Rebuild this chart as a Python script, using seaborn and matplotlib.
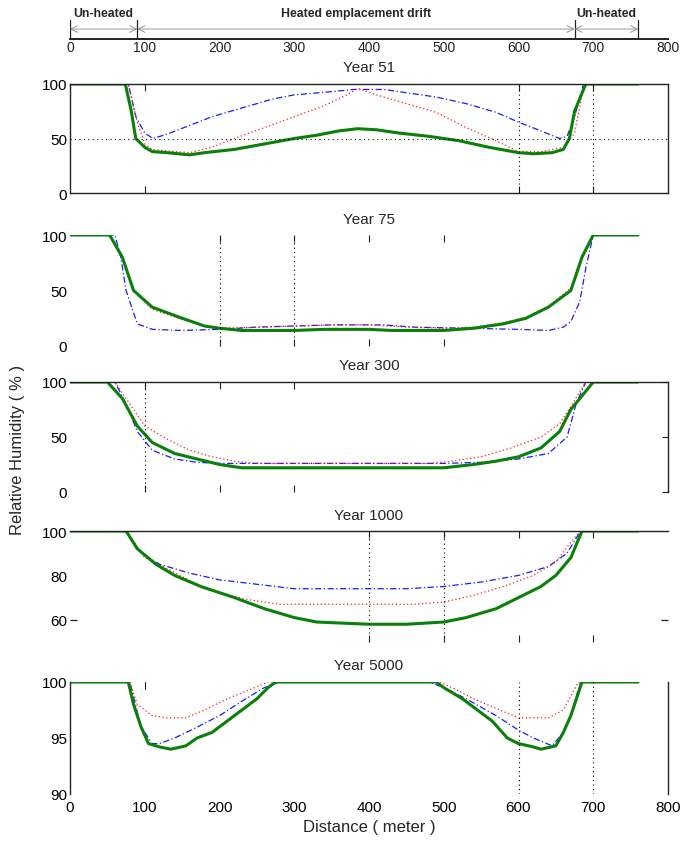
import numpy as np
import pandas as pd
import matplotlib
matplotlib.use("Agg")
import matplotlib.pyplot as plt
import seaborn as sns

sns.set_theme(style="white")
plt.rcParams['font.family'] = ['Liberation Sans', 'DejaVu Sans']

# ---------------- data ----------------
zone_edges = [0, 90, 675, 760]
zone_labels = ["Un-heated", "Heated emplacement drift", "Un-heated"]
top_ticks = [0, 100, 200, 300, 400, 500, 600, 700, 800]

# Year 51
y51_green_x = [0, 74, 82, 88, 100, 110, 130, 160, 180, 220, 260, 300, 330, 360, 385, 410, 440, 480, 520, 560, 600, 620, 645, 660, 668, 675, 690, 760]
y51_green_y = [100, 100, 75, 50, 42, 38, 37, 35, 37, 40, 45, 50, 53, 57, 59, 58, 55, 52, 48, 42, 37, 36, 37, 40, 50, 75, 100, 100]
y51_blue_x = [0, 78, 88, 100, 111, 130, 160, 190, 230, 270, 300, 350, 380, 420, 450, 490, 530, 570, 600, 630, 655, 665, 675, 687, 760]
y51_blue_y = [100, 100, 70, 55, 50, 54, 62, 70, 78, 86, 90, 93, 95, 95, 92, 88, 82, 74, 65, 57, 50, 52, 70, 100, 100]
y51_red_x = [0, 78, 90, 100, 110, 140, 160, 190, 220, 260, 300, 340, 370, 385, 410, 450, 490, 530, 570, 600, 630, 660, 675, 688, 760]
y51_red_y = [100, 100, 65, 45, 40, 38, 37, 42, 50, 60, 70, 80, 90, 96, 90, 82, 74, 60, 48, 38, 38, 42, 55, 100, 100]

# Year 75
y75_green_x = [0, 53, 70, 85, 110, 150, 180, 200, 230, 300, 340, 400, 430, 500, 540, 580, 610, 640, 670, 685, 700, 760]
y75_green_y = [100, 100, 80, 50, 35, 25, 18, 16, 14, 14, 15, 15, 14, 14, 16, 20, 25, 35, 50, 80, 100, 100]
y75_red_x = [0, 53, 70, 85, 110, 150, 180, 200, 250, 300, 350, 400, 450, 500, 540, 580, 610, 640, 670, 685, 700, 760]
y75_red_y = [100, 100, 80, 50, 33, 24, 18, 16, 17, 18, 19, 19, 17, 16, 17, 21, 26, 36, 52, 82, 100, 100]
y75_blue_x = [0, 60, 68, 75, 90, 110, 150, 200, 250, 350, 420, 460, 600, 640, 660, 670, 682, 690, 700, 760]
y75_blue_y = [100, 100, 80, 50, 20, 15, 14, 15, 17, 19, 19, 17, 15, 14, 17, 22, 40, 70, 100, 100]

# Year 300
y300_green_x = [0, 50, 70, 90, 110, 140, 170, 200, 230, 300, 400, 500, 540, 570, 600, 630, 655, 670, 700, 760]
y300_green_y = [100, 100, 85, 60, 45, 35, 30, 25, 22, 22, 22, 22, 25, 28, 32, 40, 55, 75, 100, 100]
y300_red_x = [0, 60, 80, 100, 130, 160, 190, 220, 250, 480, 510, 550, 590, 630, 655, 672, 690, 760]
y300_red_y = [100, 100, 80, 60, 48, 38, 32, 28, 26, 26, 28, 32, 40, 50, 62, 80, 100, 100]
y300_blue_x = [0, 60, 75, 90, 110, 140, 170, 200, 500, 550, 600, 640, 665, 677, 690, 760]
y300_blue_y = [100, 100, 80, 55, 38, 30, 27, 26, 26, 27, 30, 35, 50, 80, 100, 100]

# Year 1000
y1000_green_x = [0, 75, 90, 115, 140, 175, 220, 260, 300, 330, 400, 450, 500, 530, 570, 600, 630, 650, 670, 685, 760]
y1000_green_y = [100, 100, 92, 85, 80, 75, 70, 65, 61, 59, 58, 58, 59, 61, 65, 70, 75, 80, 88, 100, 100]
y1000_blue_x = [0, 75, 95, 120, 160, 200, 250, 300, 450, 500, 550, 600, 640, 665, 683, 760]
y1000_blue_y = [100, 100, 90, 85, 81, 78, 76, 74, 74, 75, 77, 80, 84, 90, 100, 100]
y1000_red_x = [0, 75, 100, 130, 170, 200, 240, 280, 460, 500, 540, 580, 620, 650, 670, 683, 760]
y1000_red_y = [100, 100, 88, 83, 76, 72, 69, 67, 67, 68, 71, 75, 80, 86, 95, 100, 100]

# Year 5000
y5000_green_x = [0, 78, 85, 95, 105, 120, 135, 155, 170, 190, 210, 230, 250, 265, 275, 490, 500, 525, 545, 565, 585, 600, 620, 630, 650, 660, 670, 685, 760]
y5000_green_y = [100, 100, 98, 96, 94.5, 94.2, 94, 94.3, 95, 95.5, 96.5, 97.5, 98.5, 99.5, 100, 100, 99.5, 98.5, 97.5, 96.5, 95, 94.5, 94.2, 94, 94.3, 95.5, 97, 100, 100]
y5000_blue_x = [0, 80, 95, 110, 120, 140, 165, 200, 235, 260, 280, 480, 500, 530, 570, 600, 620, 645, 660, 670, 683, 760]
y5000_blue_y = [100, 100, 96, 94.5, 94.5, 95, 95.8, 97, 98.5, 99.5, 100, 100, 99.5, 98.5, 97, 95.7, 95, 94.3, 95.5, 97, 100, 100]
y5000_red_x = [0, 80, 90, 110, 130, 155, 180, 210, 240, 265, 495, 520, 540, 575, 600, 640, 660, 672, 680, 760]
y5000_red_y = [100, 100, 98, 97, 96.8, 96.8, 97.5, 98.5, 99.3, 100, 100, 99.2, 98.5, 97.5, 96.8, 96.8, 97.5, 99, 100, 100]

panels = [
    ("Year 51", (y51_blue_x, y51_blue_y), (y51_red_x, y51_red_y), (y51_green_x, y51_green_y)),
    ("Year 75", (y75_blue_x, y75_blue_y), (y75_red_x, y75_red_y), (y75_green_x, y75_green_y)),
    ("Year 300", (y300_blue_x, y300_blue_y), (y300_red_x, y300_red_y), (y300_green_x, y300_green_y)),
    ("Year 1000", (y1000_blue_x, y1000_blue_y), (y1000_red_x, y1000_red_y), (y1000_green_x, y1000_green_y)),
    ("Year 5000", (y5000_blue_x, y5000_blue_y), (y5000_red_x, y5000_red_y), (y5000_green_x, y5000_green_y)),
]
ylims = [(0, 100), (0, 100), (0, 100), (50, 100), (90, 100)]
yticks = [[0, 50, 100], [0, 50, 100], [0, 50, 100], [60, 80, 100], [90, 95, 100]]

# ---------------- figure ----------------
W, H = 688, 845
fig = plt.figure(figsize=(W / 100, H / 100), dpi=100)

def box(top_px, bottom_px, left_px=70, right_px=668):
    return [left_px / W, 1 - bottom_px / H, (right_px - left_px) / W, (bottom_px - top_px) / H]

FS = 11
SP = "#222222"
# top zone axis
axt = fig.add_axes(box(15, 40))
axt.set_xlim(0, 800)
axt.set_ylim(0, 1)
for s in ["top", "left", "right"]:
    axt.spines[s].set_visible(False)
axt.spines["bottom"].set_color(SP)
axt.spines["bottom"].set_linewidth(1.4)
axt.set_facecolor("none")
axt.set_xticks(top_ticks)
axt.set_xticklabels([str(t) for t in top_ticks], fontsize=10)
axt.tick_params(axis="x", direction="in", length=4, width=0.8, pad=1, colors=SP)
axt.set_yticks([])
for e in zone_edges:
    axt.plot([e, e], [0, 0.75], color=SP, lw=0.9)
for (a, b), lab in zip(zip(zone_edges[:-1], zone_edges[1:]), zone_labels):
    axt.annotate("", xy=(a, 0.4), xytext=(b, 0.4),
                 arrowprops=dict(arrowstyle="<->", color="#888888", lw=0.6, shrinkA=0, shrinkB=0,
                                 mutation_scale=12))
    axt.text((a + b) / 2, 0.8, lab, ha="center", va="bottom", fontsize=8.8, fontweight="bold")

tops = [85, 236, 383, 532, 683]
bots = [194, 347, 493, 643, 795]
axes = []
for i, (title, blue, red, green) in enumerate(panels):
    ax = fig.add_axes(box(tops[i], bots[i]))
    axes.append(ax)
    df = pd.concat([
        pd.DataFrame({"x": blue[0], "y": blue[1], "s": "b"}),
        pd.DataFrame({"x": red[0], "y": red[1], "s": "r"}),
        pd.DataFrame({"x": green[0], "y": green[1], "s": "g"}),
    ])
    sns.lineplot(data=df[df.s == "b"], x="x", y="y", ax=ax, color="#1a1aff", lw=0.9,
                 linestyle=(0, (5, 2, 1, 2)), estimator=None, sort=False)
    sns.lineplot(data=df[df.s == "r"], x="x", y="y", ax=ax, color="#ff1a1a", lw=0.9,
                 linestyle=(0, (1, 2)), estimator=None, sort=False)
    sns.lineplot(data=df[df.s == "g"], x="x", y="y", ax=ax, color="#0a800a", lw=2.2,
                 estimator=None, sort=False)
    ax.set_xlim(0, 800)
    ax.set_ylim(*ylims[i])
    ax.set_yticks(yticks[i])
    ax.set_yticklabels([str(t) for t in yticks[i]], fontsize=FS)
    ax.set_xlabel("")
    ax.set_ylabel("")
    ax.set_title(title, fontsize=FS, pad=9)
    ax.set_facecolor("none")
    ax.tick_params(direction="in", length=4, width=0.8, colors=SP, pad=2)
    ax.tick_params(labelcolor="black")
    for s in ax.spines.values():
        s.set_color(SP)
        s.set_linewidth(1.0)

dot = dict(color="black", lw=0.8, linestyle=(0, (1, 3)))

# Panel 1: full box, dotted grid
ax = axes[0]
ax.set_xticks([100, 600, 700])
ax.set_xticklabels([])
ax.axhline(50, **dot)
ax.axvline(600, **dot)
ax.axvline(700, **dot)
ax.tick_params(axis="x", top=True, bottom=True, length=5)

# Panel 2: no spines
ax = axes[1]
for s in ax.spines.values():
    s.set_visible(False)
ax.set_xticks([200, 300, 400, 500])
ax.set_xticklabels([])
ax.tick_params(axis="x", top=True, bottom=True, length=5)
ax.tick_params(axis="y", left=False)
ax.axvline(200, **dot)
ax.axvline(300, **dot)

# Panel 3: top + right spines
ax = axes[2]
ax.spines["left"].set_visible(False)
ax.spines["bottom"].set_visible(False)
ax.set_xticks([100, 200, 300])
ax.set_xticklabels([])
ax.tick_params(axis="x", top=True, bottom=True, length=5)
ax.tick_params(axis="y", left=False, right=True, length=4)
ax.axvline(100, **dot)

# Panel 4: top spine only
ax = axes[3]
ax.spines["left"].set_visible(False)
ax.spines["right"].set_visible(False)
ax.spines["bottom"].set_visible(False)
ax.set_xticks([400, 500, 600, 700])
ax.set_xticklabels([])
ax.tick_params(axis="x", top=True, bottom=True, length=5)
ax.tick_params(axis="y", left=False, right=False)
ax.yaxis.remove_overlapping_locs = False
ax.set_yticks([60], minor=True)
ax.tick_params(axis="y", which="minor", left=True, right=True, direction="in", length=5, width=0.9, colors=SP)
ax.axvline(400, **dot)
ax.axvline(500, **dot)

# Panel 5: left + right spines, x labels
ax = axes[4]
ax.spines["top"].set_visible(False)
ax.spines["bottom"].set_visible(False)
ax.set_xticks(top_ticks)
ax.set_xticklabels([str(t) for t in top_ticks], fontsize=FS)
ax.tick_params(axis="x", top=False, bottom=False, pad=4)
ax.tick_params(axis="y", left=False, right=False)
ax.axvline(600, **dot)
ax.axvline(700, **dot)
ax.plot([100, 100], [99.4, 100], color=SP, lw=0.8)
ax.set_xlabel("Distance ( meter )", fontsize=FS + 1, labelpad=4)

fig.text(18 / W, 1 - 450 / H, "Relative Humidity ( % )", rotation=90, ha="center", va="center",
         fontsize=FS + 1)

fig.savefig("out.png", dpi=100)
